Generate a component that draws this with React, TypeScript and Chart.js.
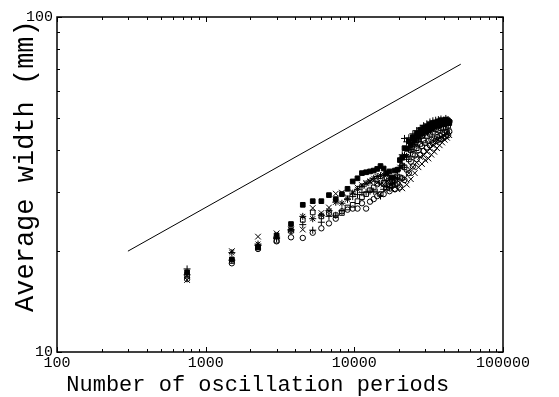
import React, { useEffect, useRef } from 'react';
import { Chart, registerables } from 'chart.js';

Chart.register(...registerables);

const FONT = '"Liberation Mono", "Courier New", monospace';

const xTitle = 'Number of oscillation periods';
const yTitle = 'Average width (mm)';
const xTickValues = [100, 1000, 10000, 100000];
const yTickValues = [10, 100];

const periods = [
  750, 1500, 2250, 3000, 3750, 4500, 5250, 6000, 6750, 7500,
  8250, 9000, 9750, 10500, 11250, 12000, 12750, 13500, 14250, 15000,
  15750, 16500, 17250, 18000, 18750, 19500, 20250, 21000, 21750, 22500,
  23250, 24000, 24750, 25500, 26250, 27000, 27750, 28500, 29250, 30000,
  30750, 31500, 32250, 33000, 33750, 34500, 35250, 36000, 36750, 37500,
  38250, 39000, 39750, 40500, 41250, 42000, 42750, 43500,
];

const filledSquare = [
  17.3, 18.9, 20.5, 22.3, 24.1, 27.5, 28.2, 28.2, 29.4, 28.6,
  29.6, 30.7, 32.3, 33.0, 34.2, 34.4, 34.6, 34.8, 35.2, 35.9,
  35.3, 34.2, 34.6, 33.2, 34.8, 35.0, 37.4, 38.0, 40.6, 40.4,
  42.6, 41.6, 43.8, 42.8, 44.8, 44.0, 46.0, 45.0, 46.8, 45.8,
  47.0, 46.0, 47.8, 46.4, 48.2, 47.2, 48.4, 47.4, 48.8, 47.6,
  49.2, 48.0, 48.8, 47.8, 49.4, 48.2, 49.0, 48.6,
];

const openSquare = [
  16.9, 18.7, 20.6, 21.5, 23.0, 24.8, 26.1, 25.4, 26.0, 25.6,
  26.0, 27.0, 27.5, 28.2, 29.0, 29.6, 30.4, 31.0, 31.8, 32.4,
  32.0, 33.0, 31.4, 32.2, 31.6, 33.4, 33.2, 36.0, 35.6, 38.2,
  37.6, 40.0, 39.0, 41.6, 40.6, 43.0, 41.8, 44.2, 42.8, 45.2,
  44.2, 46.0, 44.8, 46.6, 45.4, 47.2, 46.2, 47.6, 46.0, 47.8,
  46.6, 48.2, 46.8, 48.0, 47.0, 48.6, 47.4, 48.2,
];

const starSeries = [
  17.0, 19.8, 21.0, 22.0, 23.2, 25.4, 25.0, 25.6, 26.4, 28.0,
  27.8, 28.6, 29.8, 30.6, 31.2, 31.8, 32.4, 33.0, 33.4, 33.6,
  33.8, 32.4, 33.0, 31.8, 33.2, 33.0, 35.6, 36.0, 38.6, 38.4,
  40.8, 40.2, 42.4, 41.6, 43.8, 43.0, 45.0, 44.2, 45.8, 45.0,
  46.6, 45.6, 47.2, 46.2, 47.8, 46.8, 48.2, 47.2, 48.6, 47.4,
  48.2, 48.8, 47.6, 49.0, 48.0, 49.2, 48.4, 48.6,
];

const crossSeries = [
  16.4, 20.0, 22.1, 22.6, 23.2, 23.2, 26.9, 26.0, 27.0, 29.7,
  29.9, 29.0, 30.0, 31.0, 31.5, 32.0, 32.2, 32.5, 32.0, 31.6,
  31.6, 30.8, 31.8, 30.6, 31.6, 30.6, 32.0, 30.8, 33.0, 31.6,
  34.2, 32.8, 35.6, 34.2, 36.8, 35.6, 38.2, 36.4, 38.6, 37.4,
  39.6, 37.8, 40.4, 38.8, 41.4, 39.6, 42.2, 40.6, 43.0, 41.4,
  43.8, 42.2, 44.4, 43.0, 45.0, 43.6, 45.6, 44.4,
];

const plusSeries = [
  17.7, 18.8, 20.8, 21.8, 23.0, 24.0, 23.1, 24.4, 25.4, 25.6,
  26.4, 28.6, 29.1, 29.5, 29.9, 30.0, 30.2, 30.2, 30.0, 29.2,
  30.6, 31.2, 31.0, 32.4, 32.6, 34.8, 35.4, 38.8, 43.4, 42.4,
  43.6, 42.8, 44.8, 43.6, 45.8, 44.8, 46.6, 45.4, 47.4, 46.2,
  48.0, 47.0, 48.6, 47.4, 49.0, 47.8, 49.2, 48.2, 49.4, 48.4,
  49.6, 48.6, 49.2, 48.8, 49.8, 48.8, 49.4, 49.0,
];

const circleSeries = [
  16.5, 18.4, 20.3, 21.4, 22.0, 21.9, 22.7, 23.4, 24.2, 25.0,
  26.3, 26.6, 26.8, 26.8, 27.8, 26.8, 28.1, 28.6, 29.2, 29.6,
  29.6, 30.8, 30.2, 31.4, 30.6, 31.8, 31.0, 33.0, 32.6, 35.0,
  34.2, 37.0, 35.8, 38.6, 37.6, 40.0, 38.8, 41.2, 39.8, 42.0,
  40.8, 42.6, 41.4, 43.0, 42.0, 43.4, 42.6, 43.8, 43.0, 44.2,
  43.2, 44.6, 43.6, 45.0, 44.0, 45.4, 44.4, 45.6,
];

const fitLineX = [300, 52000];
const fitLineY = [20, 72.3];

const toPoints = (ys: number[]) => ys.map((y, i) => ({ x: periods[i], y }));

const framePlugin = {
  id: 'frameAndTitles',
  afterDatasetsDraw(chart: any) {
    const { ctx, chartArea: a, scales } = chart;
    const xs = scales.x;
    const ys = scales.y;
    ctx.save();
    ctx.strokeStyle = '#000';
    ctx.lineWidth = 1;
    ctx.beginPath();
    for (let d = 100; d <= 100000; d *= 10) {
      for (let m = 1; m <= 9; m++) {
        const v = d * m;
        if (v < 100 || v > 100000) continue;
        const px = Math.round(xs.getPixelForValue(v)) + 0.5;
        const len = m === 1 ? 5 : 3;
        ctx.moveTo(px, a.bottom);
        ctx.lineTo(px, a.bottom - len);
        ctx.moveTo(px, a.top);
        ctx.lineTo(px, a.top + len);
      }
    }
    for (let d = 10; d <= 100; d *= 10) {
      for (let m = 1; m <= 9; m++) {
        const v = d * m;
        if (v < 10 || v > 100) continue;
        const py = Math.round(ys.getPixelForValue(v)) + 0.5;
        const len = m === 1 ? 5 : 3;
        ctx.moveTo(a.left, py);
        ctx.lineTo(a.left + len, py);
        ctx.moveTo(a.right, py);
        ctx.lineTo(a.right - len, py);
      }
    }
    ctx.stroke();
    ctx.lineWidth = 1.5;
    ctx.strokeRect(a.left, a.top, a.right - a.left, a.bottom - a.top);

    ctx.fillStyle = '#000';
    ctx.font = `22px ${FONT}`;
    ctx.textAlign = 'center';
    ctx.textBaseline = 'alphabetic';
    ctx.fillText(xTitle, a.left + (a.right - a.left) * 0.45, 391);

    ctx.font = `27px ${FONT}`;
    ctx.translate(33, a.top + (a.bottom - a.top) * 0.445);
    ctx.rotate(-Math.PI / 2);
    ctx.fillText(yTitle, 0, 0);
    ctx.restore();
  },
};

export default function App() {
  const canvasRef = useRef<HTMLCanvasElement | null>(null);

  useEffect(() => {
    const canvas = canvasRef.current;
    if (!canvas) return;
    const common = { showLine: false, borderColor: '#000', borderWidth: 1 };
    const chart = new Chart(canvas, {
      type: 'scatter',
      data: {
        datasets: [
          {
            label: 'fit',
            data: fitLineX.map((x, i) => ({ x, y: fitLineY[i] })),
            showLine: true,
            borderColor: '#000',
            borderWidth: 1,
            pointRadius: 0,
            fill: false,
          },
          { ...common, label: 'filled square', data: toPoints(filledSquare), pointStyle: 'rect', pointRadius: 3.3, backgroundColor: '#000' },
          { ...common, label: 'open square', data: toPoints(openSquare), pointStyle: 'rect', pointRadius: 3.3, backgroundColor: 'rgba(0,0,0,0)' },
          { ...common, label: 'star', data: toPoints(starSeries), pointStyle: 'star', pointRadius: 3.5, backgroundColor: 'rgba(0,0,0,0)' },
          { ...common, label: 'x', data: toPoints(crossSeries), pointStyle: 'crossRot', pointRadius: 4, backgroundColor: 'rgba(0,0,0,0)' },
          { ...common, label: 'plus', data: toPoints(plusSeries), pointStyle: 'cross', pointRadius: 3.5, backgroundColor: 'rgba(0,0,0,0)' },
          { ...common, label: 'circle', data: toPoints(circleSeries), pointStyle: 'circle', pointRadius: 2.7, backgroundColor: 'rgba(0,0,0,0)' },
        ],
      },
      options: {
        animation: false,
        responsive: false,
        maintainAspectRatio: false,
        layout: { padding: { top: 17, right: 56, left: 0, bottom: 0 } },
        plugins: { legend: { display: false }, tooltip: { enabled: false } },
        scales: {
          x: {
            type: 'logarithmic',
            min: 100,
            max: 100000,
            grid: { display: false, drawTicks: false },
            border: { display: false },
            ticks: {
              color: '#000',
              font: { family: FONT, size: 15 },
              padding: 2,
              maxRotation: 0,
              autoSkip: false,
              callback: (v: any) => String(v),
            },
            afterBuildTicks: (s: any) => {
              s.ticks = xTickValues.map((v) => ({ value: v }));
            },
            afterFit: (s: any) => {
              s.height = 45;
            },
          },
          y: {
            type: 'logarithmic',
            min: 10,
            max: 100,
            grid: { display: false, drawTicks: false },
            border: { display: false },
            ticks: {
              color: '#000',
              font: { family: FONT, size: 15 },
              padding: 4,
              autoSkip: false,
              callback: (v: any) => String(v),
            },
            afterBuildTicks: (s: any) => {
              s.ticks = yTickValues.map((v) => ({ value: v }));
            },
            afterFit: (s: any) => {
              s.width = 57;
            },
          },
        },
      },
      plugins: [framePlugin],
    } as any);
    return () => chart.destroy();
  }, []);

  return (
    <div style={{ position: 'absolute', left: 0, top: 0, width: 559, height: 397, background: '#fff' }}>
      <canvas ref={canvasRef} width={559} height={397} style={{ display: 'block' }} />
    </div>
  );
}
